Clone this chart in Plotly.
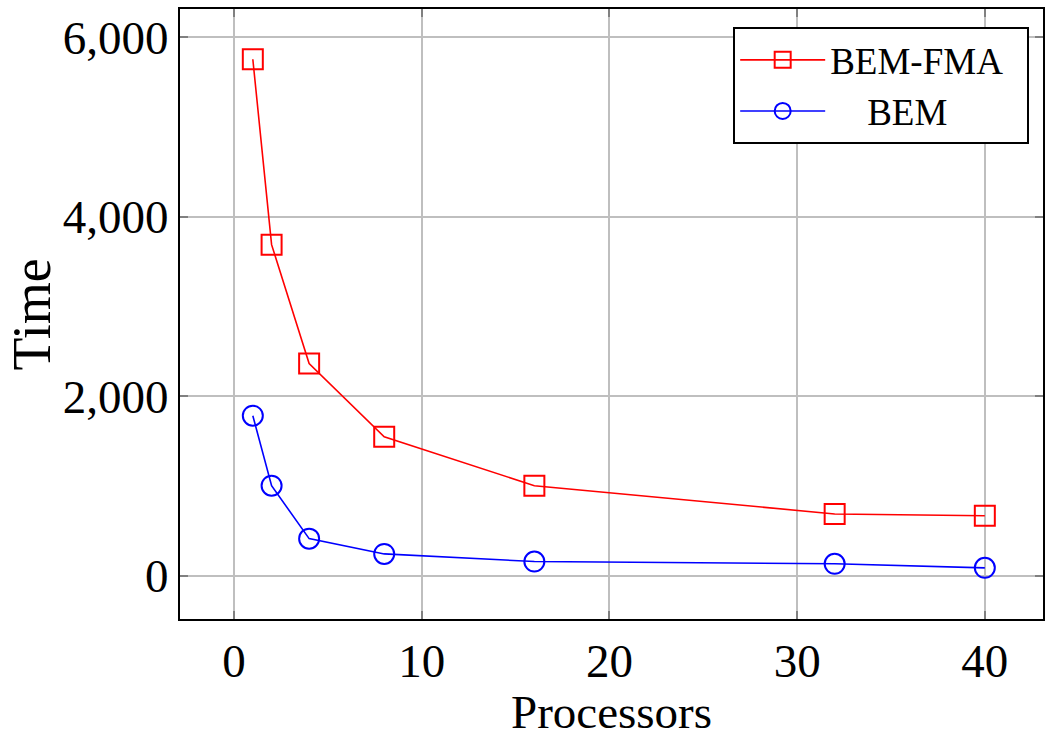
import plotly.graph_objects as go

processors = [1, 2, 4, 8, 16, 32, 40]
bem_fma = [5755, 3690, 2365, 1550, 1005, 690, 670]
bem = [1785, 1005, 415, 245, 160, 135, 90]
x_title = "Processors"
y_title = "Time"

FONT = "Liberation Serif"

fig = go.Figure()
fig.add_trace(go.Scatter(
    x=processors, y=bem_fma, name="BEM-FMA\u2007", mode="lines+markers",
    line=dict(color="red", width=1.6),
    marker=dict(symbol="square-open", size=20, color="red", line=dict(width=2)),
))
fig.add_trace(go.Scatter(
    x=processors, y=bem, name="\u2007\u2007BEM", mode="lines+markers",
    line=dict(color="blue", width=1.6),
    marker=dict(symbol="circle-open", size=20, color="blue", line=dict(width=2)),
))

axis_common = dict(
    showgrid=True, gridcolor="#bfbfbf", gridwidth=1.5,
    showline=True, linecolor="black", linewidth=2, mirror="ticks",
    ticks="inside", ticklen=8, tickcolor="#808080", tickwidth=1.5,
    zeroline=False, automargin=False,
    tickfont=dict(family=FONT, size=47, color="black"),
)

fig.update_layout(
    width=1046, height=740,
    margin=dict(l=180, r=3, t=9, b=121),
    paper_bgcolor="white", plot_bgcolor="white",
    font=dict(family=FONT, color="black"),
    xaxis=dict(range=[-2.88, 43.1], tickvals=[0, 10, 20, 30, 40],
               ticklabelstandoff=0, **axis_common),
    yaxis=dict(range=[-480, 6315], tickvals=[0, 2000, 4000, 6000],
               ticktext=["0", "2,000", "4,000", "6,000"], **axis_common),
    legend=dict(x=0.641, y=0.97, xanchor="left", yanchor="top",
                bgcolor="white", bordercolor="black", borderwidth=2,
                font=dict(family=FONT, size=37), itemwidth=85,
                tracegroupgap=0),
    showlegend=True,
    annotations=[
        dict(text=x_title, xref="paper", yref="paper", x=0.5, y=-0.1985,
             xanchor="center", yanchor="bottom", showarrow=False,
             font=dict(family=FONT, size=47, color="black")),
        dict(text=y_title, xref="paper", yref="paper", x=-0.171, y=0.5,
             xanchor="center", yanchor="middle", showarrow=False, textangle=-90,
             font=dict(family=FONT, size=54, color="black")),
    ],
)

fig.write_html("out.html")
